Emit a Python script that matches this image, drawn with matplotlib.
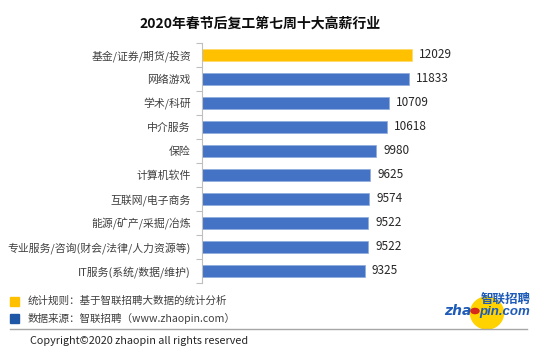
import matplotlib
matplotlib.use("Agg")
import matplotlib.pyplot as plt
from matplotlib.patches import Ellipse, Rectangle, Circle
from matplotlib.lines import Line2D

plt.rcParams['font.family'] = ['Noto Sans CJK SC', 'DejaVu Sans']

title = "2020年春节后复工第七周十大高薪行业"
categories = ["基金/证券/期货/投资", "网络游戏", "学术/科研", "中介服务", "保险",
              "计算机软件", "互联网/电子商务", "能源/矿产/采掘/冶炼",
              "专业服务/咨询(财会/法律/人力资源等)", "IT服务(系统/数据/维护)"]
values = [12029, 11833, 10709, 10618, 9980, 9625, 9574, 9522, 9522, 9325]
highlight = [True] + [False] * 9

W, H = 550, 355
fig = plt.figure(figsize=(5.5, 3.55), dpi=100)
fig.patch.set_facecolor("white")

ax = fig.add_axes([202 / W, 1 - 283 / H, 298 / W, 240 / H])
n = len(categories)
ypos = list(range(n))
colors = ["#FFC000" if h else "#4472C4" for h in highlight]
bars = ax.barh(ypos, values, height=0.5, color=colors, edgecolor="#8FAADC",
               linewidth=0.5)
for b, h in zip(bars, highlight):
    if h:
        b.set_edgecolor("#FFD966")
ax.set_ylim(n - 0.5, -0.5)
ax.set_xlim(0, 298 / (210 / 12029))
ax.set_yticks(ypos)
ax.set_yticklabels(categories, fontsize=7.8, color="#404040")
ax.tick_params(axis="y", length=0, pad=8)
ax.set_yticks([i - 0.5 for i in range(n + 1)], minor=True)
ax.tick_params(axis="y", which="minor", length=4, color="#BFBFBF", width=0.8)
ax.set_xticks([])
for s in ["top", "right", "bottom"]:
    ax.spines[s].set_visible(False)
ax.spines["left"].set_color("#BFBFBF")
ax.spines["left"].set_linewidth(0.8)
for y, v in zip(ypos, values):
    ax.text(v + 400, y, str(v), va="center", ha="left", fontsize=8.5,
            color="#262626")

fig.text(260 / W, 1 - 24 / H, title, ha="center", va="center", fontsize=10,
         fontweight="bold", color="#0D0D0D")

# legend / source notes
fig.patches.append(Rectangle((10 / W, 1 - 306 / H), 9 / W, 9 / H,
                             transform=fig.transFigure, color="#FFC000"))
fig.patches.append(Rectangle((10 / W, 1 - 323 / H), 9 / W, 9 / H,
                             transform=fig.transFigure, color="#1F57A6"))
fig.text(28 / W, 1 - 301 / H, "统计规则：基于智联招聘大数据的统计分析", fontsize=7.6,
         va="center", ha="left", color="#404040")
fig.text(28 / W, 1 - 318 / H, "数据来源：智联招聘（www.zhaopin.com）", fontsize=7.6,
         va="center", ha="left", color="#404040")
fig.lines.append(Line2D([10 / W, 527 / W], [1 - 329 / H, 1 - 329 / H],
                        transform=fig.transFigure, color="#A6A6A6", lw=1))
fig.text(30 / W, 1 - 341 / H, "Copyright©2020 zhaopin all rights reserved",
         fontsize=7.8, va="center", ha="left", color="#262626")

# logo
fig.patches.append(Ellipse((487 / W, 1 - 313 / H), 33 / W, 32 / H,
                           transform=fig.transFigure, color="#FFD200", zorder=1))
fig.text(506 / W, 1 - 299 / H, "智联招聘", fontsize=9, fontweight="bold",
         va="center", ha="center", color="#1E5BB8", zorder=3)
fig.text(472 / W, 1 - 315 / H, "zha", fontsize=10, fontweight="bold",
         va="baseline", ha="right", color="#1E5BB8", style="italic",
         family="DejaVu Sans", zorder=3)
fig.text(479 / W, 1 - 315 / H, "pin.com", fontsize=9.5, fontweight="bold",
         va="baseline", ha="left", color="#1E5BB8", style="italic",
         family="Liberation Sans", zorder=3)
fig.patches.append(Circle((475 / W, 1 - 311 / H), 4 / W,
                          transform=fig.transFigure, color="#D7261E", zorder=4))

fig.savefig("out.png", dpi=100)
